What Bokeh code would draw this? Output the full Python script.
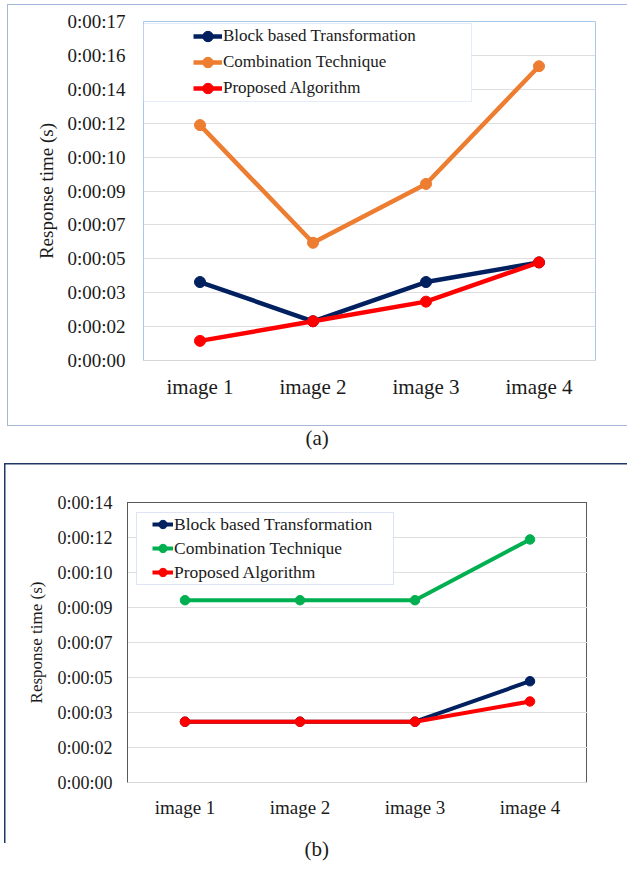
from bokeh.plotting import figure
from bokeh.models import (FactorRange, Range1d, FixedTicker, Legend, LegendItem,
                          BoxAnnotation, Title)
from bokeh.layouts import column
from bokeh.embed import file_html
from bokeh.resources import INLINE

# ---------------- data ----------------
categories = ["image 1", "image 2", "image 3", "image 4"]
series_names = ["Block based Transformation", "Combination Technique", "Proposed Algorithm"]

# chart (a): response time in seconds
a_block = [4, 2, 4, 5]
a_combination = [12, 6, 9, 15]
a_proposed = [1, 2, 3, 5]

# chart (b): response time in seconds
b_block = [3, 3, 3, 5]
b_combination = [9, 9, 9, 12]
b_proposed = [3, 3, 3, 4]

a_tick_labels = ["0:00:00", "0:00:02", "0:00:03", "0:00:05", "0:00:07", "0:00:09",
                 "0:00:10", "0:00:12", "0:00:14", "0:00:16", "0:00:17"]
b_tick_labels = ["0:00:00", "0:00:02", "0:00:03", "0:00:05", "0:00:07", "0:00:09",
                 "0:00:10", "0:00:12", "0:00:14"]
TICK_STEP = 1.728  # seconds between gridlines (0.00002 day, Excel time axis)

FONT = "Liberation Serif"
TEXT = "#1a1a1a"
W = 627


def frame_css(lines):
    parts = []
    for (x, y, w, h, color) in lines:
        parts.append(f"linear-gradient({color},{color}) {x}px {y}px / {w}px {h}px no-repeat")
    parts.append("#ffffff")
    return ", ".join(parts)


def make_chart(cfg):
    labels = cfg["tick_labels"]
    ticks = [i * TICK_STEP for i in range(len(labels))]
    p = figure(width=W, height=cfg["height"],
               x_range=FactorRange(*categories),
               y_range=Range1d(0, ticks[-1]),
               output_backend="svg", toolbar_location=None,
               min_border_left=cfg["ml"], min_border_right=cfg["mr"],
               min_border_top=cfg["mt"], min_border_bottom=cfg["mb"])
    p.frame_align = False
    p.background_fill_color = cfg["plot_bg"]
    p.border_fill_color = None
    p.styles = {"background": frame_css(cfg["frame"])}
    p.outline_line_color = cfg["outline"]
    p.outline_line_width = 1

    p.xgrid.grid_line_color = None
    p.ygrid.ticker = FixedTicker(ticks=ticks[:-1])
    p.ygrid.grid_line_color = "#dedede"
    p.ygrid.grid_line_width = 1.2

    p.yaxis.ticker = FixedTicker(ticks=ticks)
    p.yaxis.major_label_overrides = {t: lab for t, lab in zip(ticks, labels)}
    p.yaxis.minor_tick_line_color = None
    p.yaxis.major_tick_line_color = None
    p.yaxis.major_tick_out = 0
    p.yaxis.major_tick_in = 0
    p.yaxis.axis_line_color = cfg["yaxis_line"]
    p.yaxis.major_label_text_font = FONT
    p.yaxis.major_label_text_font_size = cfg["tick_fs"]
    p.yaxis.major_label_text_color = TEXT
    p.yaxis.major_label_standoff = cfg["ystandoff"]
    p.yaxis.axis_label = "Response time (s)"
    p.yaxis.axis_label_text_font = FONT
    p.yaxis.axis_label_text_font_style = "normal"
    p.yaxis.axis_label_text_font_size = cfg["ylabel_fs"]
    p.yaxis.axis_label_text_color = TEXT
    p.yaxis.axis_label_standoff = cfg["ylabel_standoff"]

    p.xaxis.major_tick_line_color = None
    p.xaxis.minor_tick_line_color = None
    p.xaxis.major_tick_out = 0
    p.xaxis.major_tick_in = 0
    p.xaxis.axis_line_color = "#d6d6d6"
    p.xaxis.major_label_text_font = FONT
    p.xaxis.major_label_text_font_size = cfg["x_fs"]
    p.xaxis.major_label_text_color = TEXT
    p.xaxis.major_label_standoff = cfg["xstandoff"]

    items = []
    for name, vals, color in zip(series_names, cfg["series"], cfg["colors"]):
        rl = p.line(categories, vals, line_width=cfg["lw"], color=color)
        rs = p.scatter(categories, vals, size=cfg["ms"], color=color)
        items.append(LegendItem(label=name, renderers=[rl, rs]))

    bl, br, bb, bt = cfg["legend_box"]
    p.add_layout(BoxAnnotation(left=bl, right=br, bottom=bb, top=bt,
                               left_units="screen", right_units="screen",
                               bottom_units="screen", top_units="screen",
                               fill_color="white", fill_alpha=1.0,
                               line_color=cfg["legend_line"], line_width=1))

    legend = Legend(items=items, location=cfg["legend_loc"], padding=0, spacing=0,
                    margin=0, label_height=cfg["row_h"], glyph_height=cfg["row_h"],
                    glyph_width=cfg["glyph_w"], label_standoff=1,
                    border_line_color=None, background_fill_alpha=0,
                    label_text_font=FONT, label_text_font_size=cfg["leg_fs"],
                    label_text_color=TEXT)
    p.add_layout(legend)

    off, stand, ctext = cfg["caption"]
    p.add_layout(Title(text=ctext, align="left", offset=off, standoff=stand,
                       text_font=FONT, text_font_size="21px", text_font_style="normal",
                       text_color=TEXT), "below")
    return p


FA = "#a3b7d6"
FB = "#1f3864"
GB = "#595959"

HA = 471          # canvas height of chart (a)
HB = 877 - HA     # canvas height of chart (b)

cfg_a = dict(
    height=HA, ml=143, mr=32, mt=21, mb=HA - 361,
    tick_labels=a_tick_labels,
    series=[a_block, a_combination, a_proposed],
    colors=["#002060", "#ED7D31", "#FF0000"],
    plot_bg="white", outline="#a9c9ea", yaxis_line=None,
    tick_fs="19px", ylabel_fs="19px", x_fs="21px",
    ystandoff=18, xstandoff=14, ylabel_standoff=7,
    lw=4.5, ms=11,
    frame=[(7, 4, 620, 1, FA), (7, 4, 1, 422, FA), (7, 425, 620, 1, FA),
           (4, 463, 623, 1.5, FB), (4, 463, 1.5, HA - 463, FB)],
    legend_box=(0, 328, 259, 337), legend_line="#9ec3e8",
    legend_loc=(50, 259), row_h=26, glyph_w=29, leg_fs="17px",
    caption=(162, 44, "(a)"),
)

cfg_b = dict(
    height=HB, ml=127, mr=40, mt=502 - HA, mb=HB - (782 - HA),
    tick_labels=b_tick_labels,
    series=[b_block, b_combination, b_proposed],
    colors=["#002060", "#00B050", "#FF0000"],
    plot_bg=None, outline=None, yaxis_line=GB,
    tick_fs="18px", ylabel_fs="17px", x_fs="19px",
    ystandoff=15, xstandoff=14, ylabel_standoff=8,
    lw=4, ms=9.5,
    frame=[(4, 0, 1.5, 843 - HA, FB),
           (127, 502 - HA, 460, 1, GB), (586, 502 - HA, 1, 280, GB)],
    legend_box=(9, 266, 198, 270), legend_line="#8faadc",
    legend_loc=(25, 198), row_h=24, glyph_w=21, leg_fs="17.5px",
    caption=(177, 28, "(b)"),
)

pa = make_chart(cfg_a)
pb = make_chart(cfg_b)
layout = column(pa, pb, spacing=0)

open("out.html", "w").write(file_html(layout, INLINE))
